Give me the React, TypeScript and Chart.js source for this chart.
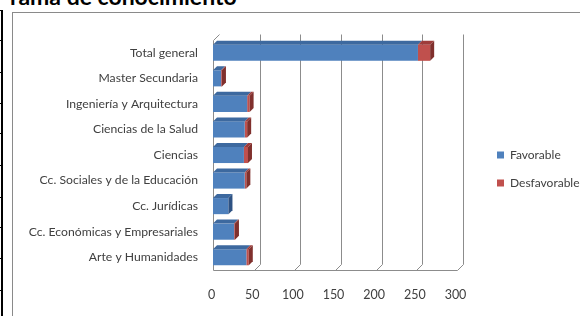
import React, { useEffect, useRef } from 'react';
import { Chart, registerables } from 'chart.js';

Chart.register(...registerables);

// ---- data ----
const categories = [
  'Total general',
  'Master Secundaria',
  'Ingeniería y Arquitectura',
  'Ciencias de la Salud',
  'Ciencias',
  'Cc. Sociales y de la Educación',
  'Cc. Jurídicas',
  'Cc. Económicas y Empresariales',
  'Arte y Humanidades',
];
const seriesNames = ['Favorable', 'Desfavorable'];
const favorable = [252, 10, 42, 39, 38, 39, 19, 26, 41];
const desfavorable = [15, 1, 3, 3, 5, 2, 0, 1, 3];
const xTicks = [0, 50, 100, 150, 200, 250, 300];
const titleText = 'rama de conocimiento';
const tableRowLines = [10, 40, 72, 103, 133, 165, 197, 227, 258, 290];

// ---- styles ----
const FRONT = ['#4F81BD', '#C0504D'];
const TOP = ['#3d699f', '#9e3c3a'];
const SIDE = ['#2e5283', '#80302d'];
const WALL_DX = 6;
const WALL_DY = -6;
const BAR_DX = 4;
const BAR_DY = -4;
const FONT = 'Lato';
const TEXT = '#404040';
const GRID = '#8c8c8c';

const poly = (ctx: CanvasRenderingContext2D, pts: number[][], color: string) => {
  ctx.beginPath();
  ctx.moveTo(pts[0][0], pts[0][1]);
  for (let i = 1; i < pts.length; i++) ctx.lineTo(pts[i][0], pts[i][1]);
  ctx.closePath();
  ctx.fillStyle = color;
  ctx.fill();
};

const threeD = {
  id: 'threeD',
  afterLayout(chart: any) {
    const lg = chart.legend;
    if (lg) {
      const h = lg.bottom - lg.top;
      lg.left = chart.chartArea.right + 24;
      lg.width = 160;
      lg.right = lg.left + lg.width;
      lg.top = chart.chartArea.top - 6;
      lg.bottom = lg.top + h;
    }
  },
  beforeDatasetsDraw(chart: any) {
    const { ctx, chartArea: ca, scales } = chart;
    const x = scales.x;
    const bottom = Math.round(ca.bottom) + 0.5;
    const top = Math.round(ca.top) + 0.5;
    ctx.save();
    ctx.strokeStyle = GRID;
    ctx.lineWidth = 1;
    ctx.beginPath();
    xTicks.forEach((v) => {
      if (v === xTicks[0]) return;
      const px = Math.round(x.getPixelForValue(v)) + 0.5;
      ctx.moveTo(px + WALL_DX, top + WALL_DY);
      ctx.lineTo(px + WALL_DX, bottom + WALL_DY);
      ctx.lineTo(px, bottom);
    });
    const x0 = Math.round(x.getPixelForValue(xTicks[0])) + 0.5;
    const x1 = Math.round(x.getPixelForValue(xTicks[xTicks.length - 1])) + 0.5;
    ctx.moveTo(x0 + WALL_DX, top + WALL_DY);
    ctx.lineTo(x0, top);
    ctx.lineTo(x0, bottom);
    ctx.lineTo(x1, bottom);
    ctx.stroke();
    ctx.restore();
  },
  afterDatasetsDraw(chart: any) {
    const { ctx } = chart;
    const metas = chart.data.datasets.map((_: any, i: number) => chart.getDatasetMeta(i));
    ctx.save();
    for (let i = 0; i < categories.length; i++) {
      let last: any = null;
      metas.forEach((m: any, di: number) => {
        const el = m.data[i];
        if (!el) return;
        const p = el.getProps(['x', 'y', 'base', 'height'], true);
        const l = Math.min(p.x, p.base);
        const r = Math.max(p.x, p.base);
        if (r - l < 0.3) return;
        const t = p.y - p.height / 2;
        poly(ctx, [[l, t], [r, t], [r + BAR_DX, t + BAR_DY], [l + BAR_DX, t + BAR_DY]], TOP[di]);
        last = { r, t, b: t + p.height, di };
      });
      if (last) {
        poly(
          ctx,
          [[last.r, last.t], [last.r + BAR_DX, last.t + BAR_DY], [last.r + BAR_DX, last.b + BAR_DY], [last.r, last.b]],
          SIDE[last.di]
        );
      }
    }
    ctx.restore();
  },
};

export default function App() {
  const ref = useRef<HTMLCanvasElement>(null);

  useEffect(() => {
    const chart = new Chart(ref.current as HTMLCanvasElement, {
      type: 'bar',
      data: {
        labels: categories,
        datasets: [
          { label: seriesNames[0], data: favorable, backgroundColor: FRONT[0], borderWidth: 0 },
          { label: seriesNames[1], data: desfavorable, backgroundColor: FRONT[1], borderWidth: 0 },
        ],
      },
      options: {
        indexAxis: 'y',
        responsive: false,
        maintainAspectRatio: false,
        devicePixelRatio: 1,
        animation: false,
        categoryPercentage: 0.63,
        barPercentage: 1,
        layout: { padding: { left: 0, top: 27, right: 196, bottom: 6 } },
        scales: {
          x: {
            stacked: true,
            min: 0,
            max: 300,
            grid: { display: false, drawTicks: false },
            border: { display: false },
            afterBuildTicks: (axis: any) => {
              axis.ticks = xTicks.map((v) => ({ value: v }));
            },
            afterFit: (axis: any) => {
              axis.height = 40;
            },
            ticks: {
              padding: 17,
              labelOffset: -1.5,
              color: TEXT,
              font: { family: FONT, size: 12.5 },
            },
          },
          y: {
            stacked: true,
            grid: { display: false, drawTicks: false },
            border: { display: false },
            afterFit: (axis: any) => {
              axis.width = 200;
            },
            ticks: {
              padding: 15,
              color: TEXT,
              font: { family: FONT, size: 12.2 },
            },
          },
        },
        plugins: {
          tooltip: { enabled: false },
          legend: {
            position: 'right',
            align: 'center',
            maxWidth: 60,
            labels: {
              boxWidth: 7,
              boxHeight: 7,
              padding: 16,
              color: TEXT,
              font: { family: FONT, size: 12 },
            },
          },
        },
      },
      plugins: [threeD],
    } as any);
    return () => chart.destroy();
  }, []);

  return (
    <div
      style={{
        position: 'fixed',
        left: 0,
        top: 0,
        width: 580,
        height: 316,
        overflow: 'hidden',
        background: '#fff',
      }}
    >
      <div
        style={{
          position: 'absolute',
          left: 10,
          top: -15,
          fontFamily: FONT,
          fontWeight: 'bold',
          fontSize: 23,
          lineHeight: '23px',
          color: '#000',
          whiteSpace: 'nowrap',
        }}
      >
        {titleText}
      </div>
      <div style={{ position: 'absolute', left: 1, top: 10, width: 2, height: 306, background: '#000' }} />
      {tableRowLines.map((y) => (
        <div key={y} style={{ position: 'absolute', left: 0, top: y, width: 3, height: 1, background: '#000' }} />
      ))}
      <div
        style={{
          position: 'absolute',
          left: 12,
          top: 12,
          width: 700,
          height: 400,
          border: '1px solid #8a8a8a',
        }}
      >
        <canvas ref={ref} width={700} height={303} style={{ display: 'block', width: 700, height: 303 }} />
      </div>
    </div>
  );
}
